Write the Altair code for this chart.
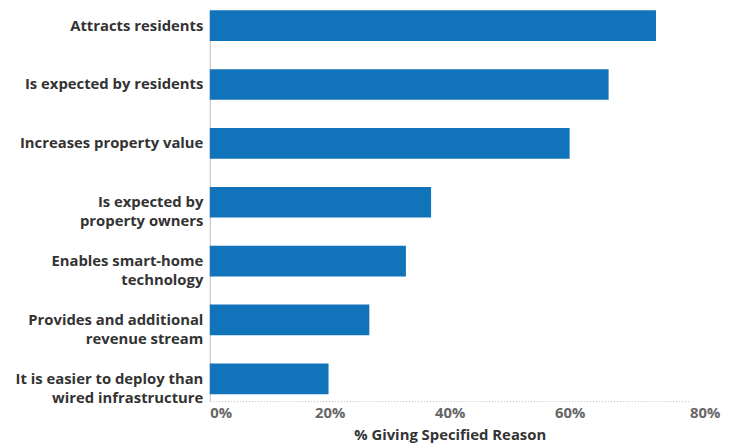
import altair as alt
import pandas as pd

reasons = [
    "Attracts residents",
    "Is expected by residents",
    "Increases property value",
    "Is expected by|property owners",
    "Enables smart-home|technology",
    "Provides and additional|revenue stream",
    "It is easier to deploy than|wired infrastructure",
]
values = [74.4, 66.5, 60.0, 36.9, 32.7, 26.6, 19.8]
x_ticks = [0, 20, 40, 60, 80]

df = pd.DataFrame({"reason": reasons, "value": values})

FONT = "Open Sans"

chart = (
    alt.Chart(df)
    .mark_bar(color="#1173BA")
    .encode(
        x=alt.X(
            "value:Q",
            scale=alt.Scale(domain=[0, 80], nice=False),
            axis=alt.Axis(
                title="% Giving Specified Reason",
                values=x_ticks,
                labelExpr="datum.value + '%'",
                grid=False,
                ticks=False,
                domainColor="#bbbbbb",
                domainDash=[1, 2],
                domainWidth=1,
                labelColor="#666666",
                labelFont=FONT,
                labelFontSize=15,
                labelFontWeight="bold",
                labelPadding=5,
                labelFlush=False,
                labelAlign={"condition": {"test": "datum.value == 0 || datum.value == 80", "value": "left"}, "value": "center"},
                titleFont=FONT,
                titleFontSize=15,
                titleFontWeight="bold",
                titleColor="#333333",
                titlePadding=7,
            ),
        ),
        y=alt.Y(
            "reason:N",
            sort=reasons,
            scale=alt.Scale(paddingInner=0.479, paddingOuter=0.059, align=0),
            axis=alt.Axis(
                title=None,
                labelExpr="split(datum.label, '|')",
                ticks=False,
                grid=False,
                domainColor="#bbbbbb",
                domainWidth=1,
                labelColor="#333333",
                labelFont=FONT,
                labelFontSize=15,
                labelFontWeight="bold",
                labelPadding=7,
                labelLineHeight=19,
                labelLimit=300,
            ),
        ),
    )
    .properties(
        width=485,
        height=395,
        autosize=alt.AutoSizeParams(type="none"),
        padding={"left": 204, "top": 0, "right": 52, "bottom": 40},
    )
    .configure_view(stroke=None)
)

chart.save("out.html", embed_options={"renderer": "svg", "actions": False})
